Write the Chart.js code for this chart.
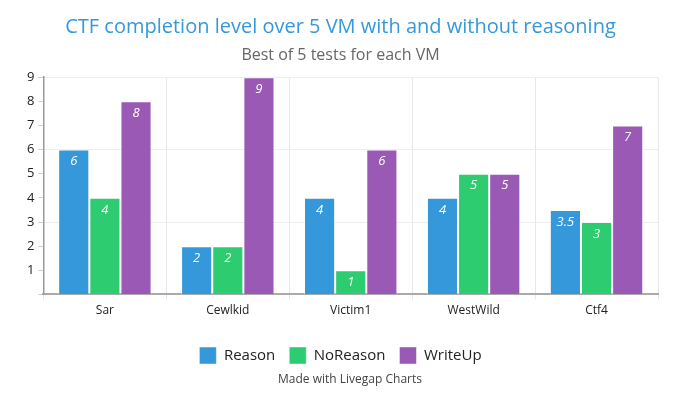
<!DOCTYPE html>
<html>
<head>
<meta charset="utf-8">
<script src="https://cdn.jsdelivr.net/npm/chart.js@4.4.0/dist/chart.umd.min.js"></script>
<style>
  html, body { margin: 0; padding: 0; background: #fff; }
  #wrap { width: 700px; height: 400px; position: relative; }
</style>
</head>
<body>
<div id="wrap"><canvas id="chart" width="700" height="400"></canvas></div>
<script>
/* ── data ─────────────────────────────────────────────── */
const categories = ['Sar', 'Cewlkid', 'Victim1', 'WestWild', 'Ctf4'];
const reason     = [6, 2, 4, 4, 3.5];
const noReason   = [4, 2, 1, 5, 3];
const writeUp    = [8, 9, 6, 5, 7];

const FONT = "'Open Sans', 'Noto Sans', sans-serif";

/* ── value labels inside the bar tops ─────────────────── */
const barLabels = {
  id: 'barLabels',
  afterDatasetsDraw(chart) {
    const ctx = chart.ctx;
    ctx.save();
    ctx.font = 'italic 13px ' + FONT;
    ctx.fillStyle = '#fff';
    ctx.textAlign = 'center';
    ctx.textBaseline = 'middle';
    chart.data.datasets.forEach((ds, i) => {
      chart.getDatasetMeta(i).data.forEach((bar, j) => {
        ctx.fillText(String(ds.data[j]), bar.x, bar.y + 12);
      });
    });
    ctx.restore();
  }
};

/* ── footer credit ───────────────────────────────────── */
const footer = {
  id: 'footer',
  afterDraw(chart) {
    const ctx = chart.ctx;
    ctx.save();
    ctx.font = '12px ' + FONT;
    ctx.fillStyle = '#444';
    ctx.textAlign = 'center';
    ctx.textBaseline = 'middle';
    ctx.fillText('Made with Livegap Charts', 350, 380);
    ctx.restore();
  }
};

function bars(label, data, color) {
  return {
    label, data,
    backgroundColor: color,
    borderColor: 'rgba(255,255,255,0.45)',
    borderWidth: 1,
    categoryPercentage: 0.76,
    barPercentage: 1.0,
  };
}

new Chart(document.getElementById('chart'), {
  type: 'bar',
  data: {
    labels: categories,
    datasets: [
      bars('Reason',   reason,   '#3498db'),
      bars('NoReason', noReason, '#2ecc71'),
      bars('WriteUp',  writeUp,  '#9b59b6'),
    ],
  },
  plugins: [barLabels, footer],
  options: {
    responsive: false,
    animation: false,
    layout: { padding: { left: 23, right: 42, top: 4, bottom: 26 } },
    plugins: {
      title: {
        display: true,
        text: 'CTF completion level over 5 VM with and without reasoning',
        color: '#3498db',
        font: { family: FONT, size: 20, weight: 'normal' },
        padding: { top: 11, bottom: 7 },
      },
      subtitle: {
        display: true,
        text: 'Best of 5 tests for each VM',
        color: '#666',
        font: { family: FONT, size: 16, weight: 'normal' },
        padding: { bottom: 12 },
      },
      legend: {
        position: 'bottom',
        // empty title only adds a gap between the axis labels and the legend
        title: { display: true, text: '', font: { size: 1 }, padding: 5 },
        labels: {
          color: '#222',
          font: { family: FONT, size: 15 },
          boxWidth: 17, boxHeight: 17,
          padding: 14,
        },
      },
      tooltip: { enabled: false },
    },
    scales: {
      x: {
        grid: {
          offset: true,
          color: '#e6e6e6',
          tickLength: 5,
        },
        border: { color: '#aaa', width: 2 },
        ticks: { color: '#222', font: { family: FONT, size: 12 }, padding: 4 },
      },
      y: {
        min: 0, max: 9,
        grid: {
          color: ctx => (ctx.tick && ctx.tick.value % 3 === 0 && ctx.tick.value > 0) ? '#eee' : 'rgba(0,0,0,0)',
          tickColor: '#ccc',
          tickLength: 5,
        },
        border: { color: '#999', width: 1.5 },
        ticks: {
          stepSize: 1,
          color: '#222',
          font: { family: FONT, size: 13 },
          padding: 4,
          callback: v => v === 0 ? '' : v,
        },
      },
    },
  },
});
</script>
</body>
</html>
